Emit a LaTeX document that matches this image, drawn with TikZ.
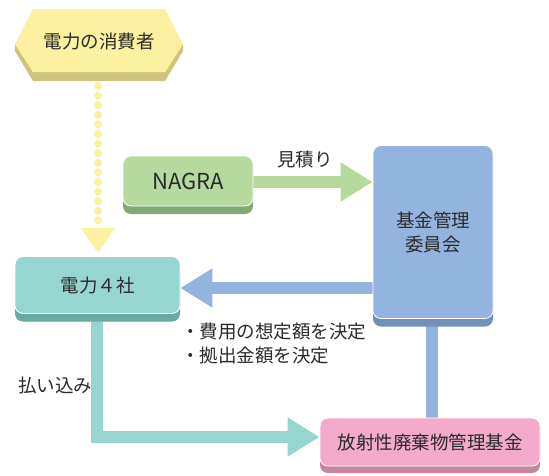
\documentclass[tikz,border=0pt]{standalone}
\usepackage{fontspec}
\setmainfont{Noto Sans CJK JP}
\usetikzlibrary{arrows.meta,shadows}
\pgfdeclarelayer{bg}
\pgfsetlayers{bg,main}
\definecolor{yface}{HTML}{FBF1A0}
\definecolor{ydark}{HTML}{CFC47E}
\definecolor{gface}{HTML}{B6DA9E}
\definecolor{gdark}{HTML}{87A874}
\definecolor{bface}{HTML}{93B4DE}
\definecolor{bdark}{HTML}{7090B8}
\definecolor{tface}{HTML}{97D6D0}
\definecolor{tdark}{HTML}{6AA8A2}
\definecolor{pface}{HTML}{F3AACB}
\definecolor{pdark}{HTML}{C8869F}
\definecolor{txt}{HTML}{2A2A2A}
\tikzset{
  boxbase/.style={rounded corners=8pt, inner sep=0pt, text=txt, align=center,
    font=\fontsize{18.5}{24}\selectfont},
  gbox/.style={boxbase, fill=gface, draw=white, line width=0.8pt,
    drop shadow={shadow xshift=0pt, shadow yshift=-8pt, fill=gdark, opacity=1}},
  bbox/.style={boxbase, fill=bface, draw=white, line width=0.8pt,
    drop shadow={shadow xshift=0pt, shadow yshift=-8pt, fill=bdark, opacity=1}},
  tbox/.style={boxbase, fill=tface, draw=white, line width=0.8pt,
    drop shadow={shadow xshift=0pt, shadow yshift=-8pt, fill=tdark, opacity=1}},
  pbox/.style={boxbase, fill=pface, draw=white, line width=0.8pt,
    drop shadow={shadow xshift=0pt, shadow yshift=-7pt, fill=pdark, opacity=1}},
  fat/.style={line width=12pt, -{Triangle[length=32pt,width=37pt]}},
  lbl/.style={text=txt, font=\fontsize{18.5}{24}\selectfont, inner sep=0pt},
}
\begin{document}
\begin{tikzpicture}[x=1pt,y=-1pt]
\useasboundingbox (0,0) rectangle (549,475);
% hexagon consumer
\fill[ydark] (15,44) -- (15,51) -- (33,81) -- (165,81) -- (183,51) -- (183,44) -- (165,72) -- (33,72) -- cycle;
\fill[yface] (15,44) -- (33,9) -- (165,9) -- (183,44) -- (165,72) -- (33,72) -- cycle;
\node[lbl] (cons) at (99,41) {電力の消費者};
\coordinate (consb) at (98,86);
% boxes
\node[gbox, minimum width=130pt, minimum height=50pt] (nagra) at (188,181)
  {\fontsize{22}{24}\selectfont NAGRA};
\node[bbox, minimum width=120pt, minimum height=173pt] (fund) at (433,232)
  {基金管理\\委員会};
\node[tbox, minimum width=165pt, minimum height=57pt] (power) at (97.5,285)
  {電力４社};
\node[pbox, minimum width=220pt, minimum height=48pt] (waste) at (430,442)
  {放射性廃棄物管理基金};
% labels
\node[lbl] (est) at (305,160) {見積り};
\node[lbl, anchor=west, align=left] (dec) at (181,344) {・費用の想定額を決定\\・拠出金額を決定};
\node[lbl] (pay) at (55,385) {払い込み};
% connectors
\begin{pgfonlayer}{bg}
\draw[yface, line width=8pt, line cap=round, dash pattern=on 0pt off 9.6pt]
  (consb) -- (98,222);
\fill[yface] (81,228) -- (115,228) -- (98,253) -- cycle;
\draw[fat, gface] (nagra.east |- 0,182) -- (fund.west |- 0,182);
\draw[fat, bface] (fund.west |- 0,288) -- (power.east |- 0,288);
\draw[fat, tface] (power.south -| 97,0) -- (97,437) -- (waste.west |- 0,437);
\draw[line width=12pt, bface] (fund.south -| 432,0) -- (waste.north -| 432,0);
\end{pgfonlayer}
\end{tikzpicture}
\end{document}
